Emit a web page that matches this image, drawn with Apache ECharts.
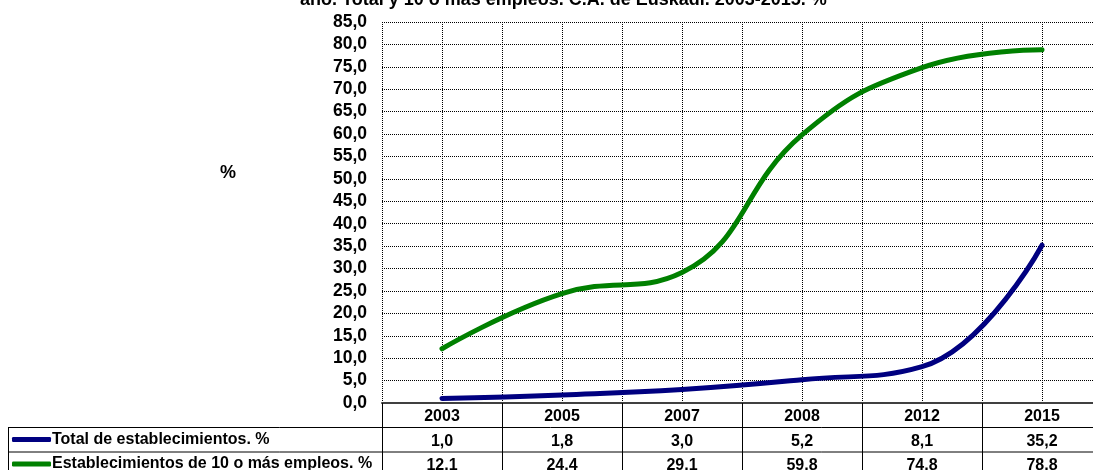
<!DOCTYPE html>
<html>
<head>
<meta charset="utf-8">
<script src="https://cdn.jsdelivr.net/npm/echarts@6/dist/echarts.min.js"></script>
<style>
  html, body { margin: 0; padding: 0; background: #fff; }
  #chart { width: 1093px; height: 470px; }
</style>
</head>
<body>
<div id="chart"></div>
<script>
// data
const years = ['2003', '2005', '2007', '2008', '2012', '2015'];
const totalPct = [1.0, 1.8, 3.0, 5.2, 8.1, 35.2];
const tenPlusPct = [12.1, 24.4, 29.1, 59.8, 74.8, 78.8];
const seriesNames = ['Total de establecimientos. %', 'Establecimientos de 10 o más empleos. %'];
const seriesColors = ['#000080', '#008000'];
const yMax = 85;
const yStep = 5;
const titleText = 'año. Total y 10 o más empleos. C.A. de Euskadi. 2003-2015. %';

// layout
const GRID = { left: 382, top: 22, width: 720, height: 381 };
const ROW = 24.5;
const FONT = 'Liberation Sans, Arial, sans-serif';
const fmt = v => Number(v).toFixed(1).replace('.', ',');

const tableY0 = GRID.top + GRID.height;

const DOTTED = { color: '#000', width: 1, type: 'dotted' };

function tableAxis(data, offset, withLine) {
  return {
    type: 'category',
    gridIndex: 0,
    position: 'bottom',
    offset,
    data,
    boundaryGap: true,
    axisLine: withLine ? { lineStyle: { color: '#404040', width: 2 } } : { show: false },
    axisTick: withLine
      ? { show: true, inside: false, length: ROW * 3, lineStyle: { color: '#000', width: 1 } }
      : { show: false },
    axisLabel: { color: '#000', fontFamily: FONT, fontWeight: 'bold', fontSize: 16, margin: 6, interval: 0 },
    splitLine: { show: false },
  };
}

const chart = echarts.init(document.getElementById('chart'), null, { renderer: 'canvas' });

chart.setOption({
  animation: false,
  textStyle: { fontFamily: FONT },
  title: {
    text: titleText,
    left: 300, top: -9, padding: 0,
    textStyle: { color: '#000', fontFamily: FONT, fontWeight: 'bold', fontSize: 18 },
  },
  grid: { ...GRID, containLabel: false, outerBoundsMode: 'none' },
  legend: seriesNames.map((name, i) => ({
    data: [name],
    left: 12,
    top: tableY0 + ROW * (i + 1) + 4,
    padding: 0,
    icon: 'roundRect',
    itemWidth: 39, itemHeight: 5,
    selectedMode: false,
    textStyle: { color: '#000', fontFamily: FONT, fontWeight: 'bold', fontSize: 16, padding: [0, 0, 0, -4] },
  })),
  xAxis: [
    tableAxis(years, 0, true),
    tableAxis(totalPct.map(fmt), ROW, false),
    tableAxis(tenPlusPct.map(fmt), ROW * 2, false),
    {
      // half-category dotted verticals
      type: 'value', gridIndex: 0, min: 0, max: years.length * 2, interval: 1,
      show: true, position: 'top',
      axisLine: { show: false }, axisTick: { show: false }, axisLabel: { show: false },
      splitLine: { show: true, lineStyle: DOTTED },
    },
  ],
  yAxis: {
    type: 'value',
    min: 0, max: yMax, interval: yStep,
    axisLine: { show: false },
    axisTick: { show: false },
    axisLabel: {
      color: '#000', fontFamily: FONT, fontWeight: 'bold', fontSize: 17.5, margin: 15,
      formatter: fmt,
    },
    splitLine: { show: true, lineStyle: DOTTED },
  },
  series: [totalPct, tenPlusPct].map((values, i) => ({
    name: seriesNames[i],
    type: 'line',
    xAxisIndex: 0,
    data: values,
    smooth: 0.45,
    showSymbol: false,
    symbol: 'none',
    z: 5,
    itemStyle: { color: seriesColors[i] },
    lineStyle: { color: seriesColors[i], width: 5, cap: 'round' },
  })),
  graphic: [
    {
      type: 'text', left: 220, top: 164,
      style: { text: '%', fill: '#000', font: 'bold 18px ' + FONT },
    },
    // data table rules across the legend column
    ...[1, 2].map(k => ({
      type: 'line', silent: true,
      shape: { x1: 8, y1: tableY0 + ROW * k, x2: 1093, y2: tableY0 + ROW * k },
      style: { stroke: '#000', lineWidth: 1 },
    })),
    {
      type: 'line', silent: true,
      shape: { x1: 8.5, y1: tableY0 + ROW, x2: 8.5, y2: 470 },
      style: { stroke: '#000', lineWidth: 1 },
    },
  ],
});
</script>
</body>
</html>
